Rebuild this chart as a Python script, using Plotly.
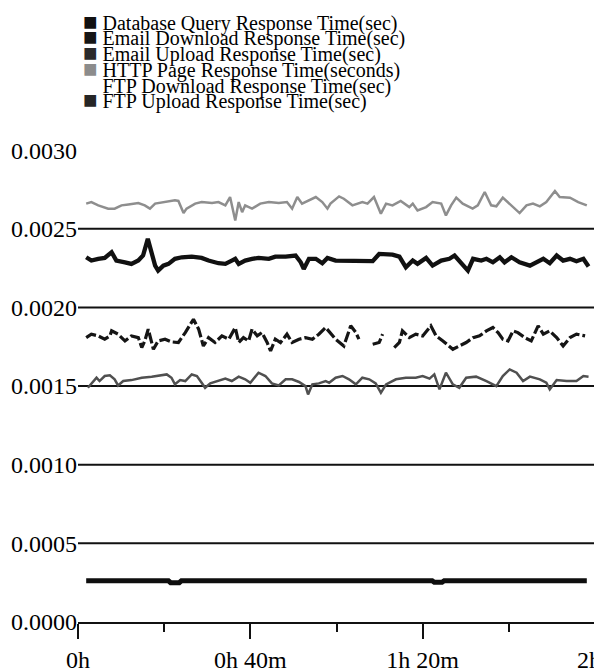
import plotly.graph_objects as go

# ---------------- data ----------------
SERIES_NAMES = [
    "Database Query Response Time(sec)",
    "Email Download Response Time(sec)",
    "Email Upload Response Time(sec)",
    "HTTP Page Response Time(seconds)",
    "FTP Download Response Time(sec)",
    "FTP Upload Response Time(sec)",
]
LEGEND_SWATCH = ["#111111", "#161616", "#2b2b2b", "#8c8c8c", "#ffffff", "#262626"]

Y_TICK_VALUES = [0, 0.0005, 0.0010, 0.0015, 0.0020, 0.0025, 0.0030]
Y_TICK_TEXT = ["0.0000", "0.0005", "0.0010", "0.0015", "0.0020", "0.0025", "0.0030"]
GRID_VALUES = [0.0005, 0.0010, 0.0015, 0.0020, 0.0025]
X_TICK_VALUES = [0, 40, 80, 120]
X_TICK_TEXT = ["0h", "0h 40m", "1h 20m", "2h\u00a0\u00a0"]
X_MINOR_VALUES = [20, 60, 100]

# time in minutes
http_t = [1.9, 3.1, 4.7, 7.0, 8.5, 10.1, 11.7, 14.0, 15.5, 16.7, 17.9, 20.2, 22.5, 23.3, 24.5,
          25.2, 27.2, 28.7, 31.1, 32.6, 34.2, 35.3, 36.1, 36.5, 37.3, 38.1, 38.8, 40.4, 42.3,
          44.3, 46.6, 48.5, 49.7, 50.9, 52.0, 53.6, 55.2, 56.7, 57.9, 58.6, 60.6, 61.7, 63.7,
          66.0, 67.2, 68.7, 70.3, 71.5, 73.0, 74.9, 76.9, 77.7, 78.8, 80.8, 82.3, 84.3, 85.4,
          86.6, 87.8, 89.3, 91.6, 92.8, 94.4, 95.9, 97.1, 98.6, 100.6, 102.5, 104.1, 105.6,
          107.2, 108.7, 110.7, 111.8, 114.2, 116.1, 118.1]
http_v = [0.002660, 0.002670, 0.002649, 0.002628, 0.002628, 0.002649, 0.002655, 0.002664,
          0.002649, 0.002628, 0.002660, 0.002670, 0.002681, 0.002677, 0.002600, 0.002628,
          0.002660, 0.002670, 0.002664, 0.002670, 0.002649, 0.002702, 0.002596, 0.002553,
          0.002670, 0.002606, 0.002649, 0.002628, 0.002660, 0.002670, 0.002664, 0.002670,
          0.002628, 0.002702, 0.002660, 0.002681, 0.002702, 0.002670, 0.002628, 0.002660,
          0.002706, 0.002691, 0.002649, 0.002670, 0.002660, 0.002702, 0.002596, 0.002660,
          0.002649, 0.002677, 0.002638, 0.002660, 0.002617, 0.002638, 0.002670, 0.002660,
          0.002585, 0.002649, 0.002698, 0.002660, 0.002628, 0.002649, 0.002734, 0.002649,
          0.002643, 0.002698, 0.002649, 0.002600, 0.002649, 0.002660, 0.002643, 0.002670,
          0.002740, 0.002702, 0.002698, 0.002670, 0.002649]

email_dl_t = [1.9, 3.1, 4.7, 6.2, 7.8, 8.9, 10.9, 12.4, 14.0, 15.1, 16.2, 17.1, 17.9, 18.6,
              19.8, 21.0, 22.5, 24.1, 26.4, 28.7, 30.3, 32.6, 34.2, 35.7, 36.5, 37.3, 38.8,
              40.4, 41.9, 44.3, 45.8, 48.2, 50.5, 51.7, 52.4, 53.6, 55.2, 56.7, 57.9, 59.8,
              62.1, 64.5, 66.0, 68.4, 69.9, 71.5, 73.0, 74.6, 76.1, 77.7, 78.8, 80.8, 82.3,
              84.3, 86.2, 87.4, 88.9, 90.5, 91.7, 93.6, 94.8, 96.3, 97.9, 99.0, 100.6, 102.5,
              104.9, 106.4, 108.0, 109.5, 111.1, 112.6, 114.2, 115.7, 117.3, 118.5]
email_dl_v = [0.002319, 0.002298, 0.002309, 0.002315, 0.002351, 0.002298, 0.002287, 0.002277,
              0.002298, 0.002330, 0.002436, 0.002340, 0.002266, 0.002234, 0.002266, 0.002277,
              0.002309, 0.002319, 0.002323, 0.002315, 0.002298, 0.002281, 0.002277, 0.002298,
              0.002309, 0.002277, 0.002298, 0.002309, 0.002315, 0.002309, 0.002323, 0.002323,
              0.002330, 0.002287, 0.002245, 0.002309, 0.002309, 0.002281, 0.002315, 0.002298,
              0.002298, 0.002294, 0.002298, 0.002294, 0.002340, 0.002336, 0.002336, 0.002323,
              0.002255, 0.002298, 0.002277, 0.002315, 0.002266, 0.002298, 0.002309, 0.002330,
              0.002287, 0.002234, 0.002309, 0.002298, 0.002309, 0.002287, 0.002319, 0.002287,
              0.002319, 0.002287, 0.002266, 0.002287, 0.002309, 0.002281, 0.002330, 0.002298,
              0.002309, 0.002294, 0.002309, 0.002260]

email_ul_t = [1.9, 3.1, 4.7, 6.2, 7.4, 7.8, 9.3, 10.9, 12.4, 14.0, 14.8, 15.5, 16.3, 17.1,
              17.5, 18.6, 20.2, 21.7, 23.3, 24.9, 26.8, 28.0, 29.1, 30.3, 31.8, 33.4, 35.0,
              36.5, 37.3, 38.4, 39.6, 40.4, 41.6, 42.7, 43.9, 44.7, 45.8, 47.0, 48.5, 49.7,
              51.3, 52.8, 54.4, 55.9, 57.5, 59.8, 61.7, 63.3, 64.5, 65.2, 66.8, 68.4, 69.9,
              70.7, 72.0, 73.4, 74.6, 75.3, 76.9, 78.4, 80.0, 81.9, 83.1, 84.7, 87.0, 88.5,
              90.1, 91.7, 93.2, 94.8, 96.3, 97.5, 98.6, 99.8, 101.0, 102.1, 103.7, 105.2,
              106.8, 108.0, 109.5, 111.1, 112.6, 114.2, 115.7, 117.7]
email_ul_v = [0.001808, 0.001830, 0.001819, 0.001798, 0.001819, 0.001851, 0.001830, 0.001787,
              0.001819, 0.001808, 0.001745, 0.001787, 0.001862, 0.001777, 0.001734, 0.001787,
              0.001798, 0.001781, 0.001777, 0.001840, 0.001925, 0.001862, 0.001755, 0.001808,
              0.001777, 0.001819, 0.001798, 0.001872, 0.001777, 0.001808, 0.001787, 0.001862,
              0.001819, 0.001840, 0.001777, 0.001723, 0.001798, 0.001777, 0.001830, 0.001777,
              0.001798, 0.001808, 0.001798, 0.001830, 0.001872, 0.001798, 0.001755, 0.001883,
              0.001840, 0.001798, None, 0.001766, 0.001777, 0.001830, None, 0.001745,
              0.001777, 0.001851, 0.001808, 0.001830, 0.001819, 0.001883, 0.001819, 0.001787,
              0.001734, 0.001755, 0.001777, 0.001808, 0.001819, 0.001851, 0.001872, 0.001840,
              0.001798, 0.001787, 0.001851, 0.001840, 0.001808, 0.001787, 0.001883, 0.001830,
              0.001851, 0.001808, 0.001755, 0.001808, 0.001830, 0.001819]

ftp_ul_t = [2.3, 3.5, 4.3, 5.0, 6.2, 7.4, 8.5, 9.3, 10.5, 12.4, 14.8, 17.1, 18.6, 20.6, 21.7,
            22.5, 23.7, 24.9, 26.4, 27.6, 28.7, 29.5, 30.7, 32.6, 34.2, 35.7, 37.3, 38.8,
            40.0, 41.9, 43.5, 45.0, 46.6, 48.2, 49.7, 51.3, 52.8, 53.4, 54.4, 55.9, 57.5,
            58.3, 59.8, 61.4, 62.9, 64.5, 66.0, 67.6, 69.1, 70.3, 71.5, 73.8, 76.1, 78.4,
            80.0, 81.6, 82.7, 83.9, 85.4, 87.0, 88.5, 90.1, 92.4, 94.8, 97.1, 98.6, 100.2,
            101.8, 103.3, 104.9, 107.2, 108.7, 109.5, 111.1, 113.4, 115.7, 117.3, 118.5]
ftp_ul_v = [0.001489, 0.001532, 0.001553, 0.001532, 0.001564, 0.001568, 0.001543, 0.001504,
            0.001532, 0.001538, 0.001553, 0.001560, 0.001564, 0.001574, 0.001553, 0.001511,
            0.001538, 0.001532, 0.001574, 0.001564, 0.001521, 0.001489, 0.001517, 0.001532,
            0.001547, 0.001532, 0.001560, 0.001543, 0.001521, 0.001585, 0.001564, 0.001517,
            0.001504, 0.001543, 0.001543, 0.001526, 0.001500, 0.001447, 0.001511, 0.001517,
            0.001532, 0.001521, 0.001553, 0.001564, 0.001543, 0.001511, 0.001553, 0.001543,
            0.001517, 0.001457, 0.001511, 0.001543, 0.001553, 0.001553, 0.001564, 0.001547,
            0.001574, 0.001479, 0.001585, 0.001511, 0.001489, 0.001553, 0.001560, 0.001532,
            0.001500, 0.001564, 0.001606, 0.001585, 0.001532, 0.001560, 0.001543, 0.001521,
            0.001479, 0.001538, 0.001532, 0.001532, 0.001564, 0.001560]

db_t = [1.9, 10.0, 21.0, 21.5, 23.5, 24.0, 40.0, 60.0, 82.2, 82.7, 84.5, 85.0, 100.0, 118.1]
db_v = [0.000262, 0.000262, 0.000262, 0.000250, 0.000250, 0.000262, 0.000262, 0.000262,
        0.000262, 0.000252, 0.000252, 0.000262, 0.000262, 0.000262]

ftp_dl_t = []
ftp_dl_v = []

# ---------------- figure ----------------
FONT = "Liberation Serif"
PAGE_OFFSET = 8          # default body margin of the page
W, H = 602 - PAGE_OFFSET, 668 - PAGE_OFFSET
ML, MR, MT, MB = 78 - PAGE_OFFSET, 7, 147 - PAGE_OFFSET, 46
fig = go.Figure()

traces = [
    (SERIES_NAMES[3], http_t, http_v, dict(color="#8e8e8e", width=2.5)),
    (SERIES_NAMES[1], email_dl_t, email_dl_v, dict(color="#111111", width=4.3)),
    (SERIES_NAMES[2], email_ul_t, email_ul_v, dict(color="#151515", width=3.2, dash="11px,3px")),
    (SERIES_NAMES[5], ftp_ul_t, ftp_ul_v, dict(color="#505050", width=2.5)),
    (SERIES_NAMES[0], db_t, db_v, dict(color="#0e0e0e", width=5)),
    (SERIES_NAMES[4], ftp_dl_t, ftp_dl_v, dict(color="#ffffff", width=2)),
]
for name, t, v, line in traces:
    fig.add_trace(go.Scatter(x=t, y=v, mode="lines", name=name, line=line,
                             connectgaps=False, showlegend=False, hoverinfo="skip"))

shapes = []
for g in GRID_VALUES:
    shapes.append(dict(type="line", xref="paper", yref="y", x0=0, x1=1, y0=g, y1=g,
                       line=dict(color="#111111", width=2), layer="below"))
shapes.append(dict(type="line", xref="paper", yref="paper", x0=1, x1=1, y0=0, y1=1,
                   line=dict(color="#333333", width=1.5), layer="below"))

plot_w = W - ML - MR
plot_h = H - MT - MB
annotations = []
for i, (name, col) in enumerate(zip(SERIES_NAMES, LEGEND_SWATCH)):
    ypx = 21.7 + i * 15.7 - PAGE_OFFSET
    xpx = 81 - PAGE_OFFSET
    annotations.append(dict(
        xref="paper", yref="paper", x=(xpx - ML) / plot_w, y=(H - MB - ypx) / plot_h,
        xanchor="left", yanchor="middle", showarrow=False,
        text=f'<span style="color:{col};font-size:24px">■</span> {name}',
        font=dict(family=FONT, size=20, color="#000000"),
    ))

fig.update_layout(
    width=W, height=H,
    margin=dict(l=ML, r=MR, t=MT, b=MB, autoexpand=False),
    paper_bgcolor="white", plot_bgcolor="white",
    font=dict(family=FONT, color="#000000"),
    shapes=shapes, annotations=annotations,
    showlegend=False,
)
fig.update_xaxes(
    range=[0, 120], showgrid=False, zeroline=False, automargin=False,
    showline=True, linecolor="#111111", linewidth=2,
    tickmode="array", tickvals=X_TICK_VALUES, ticktext=X_TICK_TEXT,
    ticks="outside", ticklen=15, tickwidth=2, tickcolor="#111111",
    ticklabeloverflow="allow",
    tickfont=dict(family=FONT, size=24, color="#000000"),
    minor=dict(tickmode="array", tickvals=X_MINOR_VALUES, ticks="outside",
               ticklen=8, tickwidth=2, tickcolor="#111111", showgrid=False),
)
fig.update_yaxes(
    range=[0, 0.00302], showgrid=False, zeroline=False, showline=False, automargin=False,
    tickmode="array", tickvals=Y_TICK_VALUES, ticktext=Y_TICK_TEXT,
    ticks="", ticklabeloverflow="allow",
    tickfont=dict(family=FONT, size=24, color="#000000"),
)

fig.write_html("out.html")
